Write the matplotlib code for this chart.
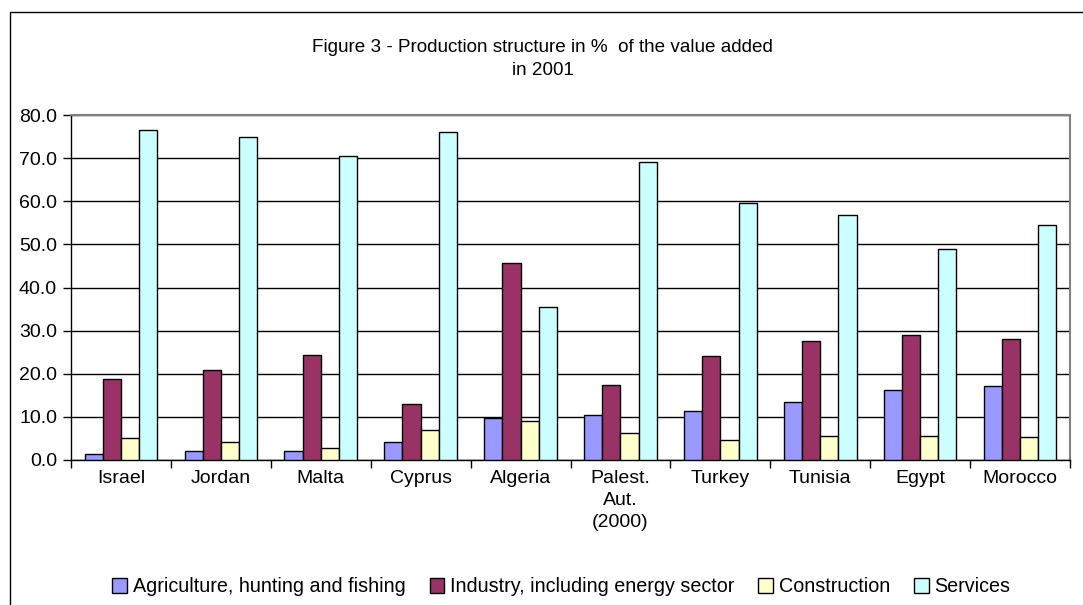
import matplotlib
matplotlib.use("Agg")
import matplotlib.pyplot as plt
import numpy as np
from matplotlib.patches import Rectangle

plt.rcParams['font.family'] = ['Liberation Sans', 'DejaVu Sans']

categories = ["Israel", "Jordan", "Malta", "Cyprus", "Algeria", "Palest.\nAut.\n(2000)",
              "Turkey", "Tunisia", "Egypt", "Morocco"]
series_names = ["Agriculture, hunting and fishing", "Industry, including energy sector",
                "Construction", "Services"]
agriculture = [1.5, 2.2, 2.2, 4.1, 9.8, 10.5, 11.4, 13.4, 16.2, 17.2]
industry = [18.7, 20.9, 24.4, 13.0, 45.7, 17.5, 24.1, 27.7, 28.9, 28.0]
construction = [5.0, 4.1, 2.8, 7.0, 9.1, 6.3, 4.7, 5.6, 5.6, 5.3]
services = [76.5, 75.0, 70.5, 76.0, 35.5, 69.2, 59.7, 56.8, 48.9, 54.6]
yticks = [0, 10, 20, 30, 40, 50, 60, 70, 80]
title = "Figure 3 - Production structure in %  of the value added\nin 2001"

colors = ["#9999FF", "#993366", "#FFFFCC", "#CCFFFF"]
data = [agriculture, industry, construction, services]

W, H = 1083, 605
fig = plt.figure(figsize=(W / 100, H / 100), dpi=100)
ax = fig.add_axes([71 / W, (H - 460) / H, (1070 - 71) / W, (460 - 115) / H])

n = len(categories)
x = np.arange(n)
bw = 1 / 5.5
for i, (vals, c, name) in enumerate(zip(data, colors, series_names)):
    ax.bar(x + (i - 1.5) * bw, vals, width=bw, color=c, edgecolor="black",
           linewidth=1.0, label=name, zorder=3)

ax.set_xlim(-0.5, n - 0.5)
ax.set_ylim(0, 80)
ax.set_yticks(yticks)
ax.set_yticklabels([f"{v:.1f}" for v in yticks], fontsize=14)
ax.yaxis.grid(True, color="black", linewidth=1.0, zorder=0)
ax.set_axisbelow(True)

# category boundaries ticks
ax.set_xticks(np.arange(n + 1) - 0.5, minor=False)
ax.set_xticklabels([])
ax.set_xticks(x, minor=True)
ax.set_xticklabels(categories, minor=True, fontsize=14, linespacing=1.4, va="top")
ax.tick_params(axis="x", which="minor", length=0, pad=7)
ax.tick_params(axis="x", which="major", length=6, width=1, direction="out", color="black")
ax.tick_params(axis="y", length=6, width=1, direction="out", pad=4)

for s in ["top", "right"]:
    ax.spines[s].set_color("#808080")
    ax.spines[s].set_linewidth(1.5)
for s in ["left", "bottom"]:
    ax.spines[s].set_color("black")
    ax.spines[s].set_linewidth(1.0)

fig.text(542.5 / W, 1 - 59 / H, title, ha="center", va="center",
         fontsize=13.6, linespacing=1.5)

handles, labels = ax.get_legend_handles_labels()
leg = fig.legend(handles, labels, loc="center", bbox_to_anchor=(561.5 / W, 1 - 587 / H),
                 ncol=4, frameon=False, fontsize=14.2, handlelength=0.75, handleheight=0.75,
                 handletextpad=0.3, columnspacing=1.2, borderaxespad=0)

fig.add_artist(Rectangle((10 / W, -0.1), 1.2, (H - 12) / H + 0.1, transform=fig.transFigure,
                         fill=False, edgecolor="black", linewidth=1.0))

fig.savefig("out.png", dpi=100)
